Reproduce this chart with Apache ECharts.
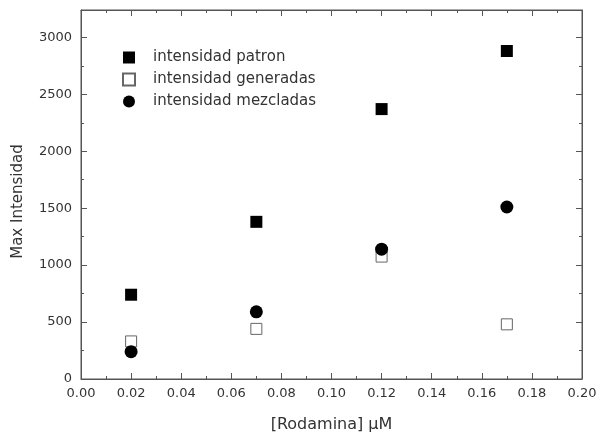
<!DOCTYPE html>
<html>
<head>
<meta charset="utf-8">
<script src="https://cdn.jsdelivr.net/npm/echarts@6/dist/echarts.min.js"></script>
<style>
    html, body { margin: 0; padding: 0; background: #fff; }
    #chart { width: 597px; height: 434px; }
</style>
</head>
<body>
<div id="chart"></div>
<script>
// concentraciones de rodamina (uM)
const rodamina = [0.02, 0.07, 0.12, 0.17];
const patron = [740, 1380, 2370, 2880];
const generadas = [330, 440, 1075, 480];
const mezcladas = [240, 590, 1140, 1510];

const seriesNames = ['intensidad patron', 'intensidad generadas', 'intensidad mezcladas'];

const chart = echarts.init(document.getElementById('chart'));

const axisColor = '#555';
const labelColor = '#333';
const font = 'DejaVu Sans';

function pairs(values) {
    return rodamina.map((x, i) => [x, values[i]]);
}

function tickStyle() {
    return {
        axisLine: { show: true, onZero: false, lineStyle: { color: axisColor, width: 1 } },
        axisTick: { show: true, inside: true, length: 6, lineStyle: { color: axisColor } },
        minorTick: { show: true, splitNumber: 2, length: 3, lineStyle: { color: axisColor } },
        splitLine: { show: false }
    };
}

chart.setOption({
    animation: false,
    grid: {
        left: 81,
        right: 15,
        top: 10,
        bottom: 55,
        outerBoundsMode: 'none',
        show: true,
        borderColor: axisColor,
        borderWidth: 1
    },
    legend: {
        left: 117,
        top: 45,
        orient: 'vertical',
        itemGap: 7,
        itemWidth: 12,
        itemHeight: 12,
        textStyle: {
            color: labelColor,
            fontSize: 15,
            fontFamily: font,
            padding: [0, 0, 0, 13]
        },
        data: seriesNames
    },
    xAxis: [
        Object.assign(tickStyle(), {
            type: 'value',
            min: 0,
            max: 0.2,
            interval: 0.02,
            name: '[Rodamina] \u03bcM',
            nameLocation: 'middle',
            nameGap: 38,
            nameTextStyle: { color: labelColor, fontSize: 16, fontFamily: font },
            axisLabel: {
                color: labelColor,
                fontSize: 13,
                fontFamily: font,
                margin: 8,
                formatter: v => v.toFixed(2)
            }
        }),
        Object.assign(tickStyle(), {
            type: 'value',
            position: 'top',
            min: 0,
            max: 0.2,
            interval: 0.02,
            axisLabel: { show: false }
        })
    ],
    yAxis: [
        Object.assign(tickStyle(), {
            type: 'value',
            min: 0,
            max: 3240,
            interval: 500,
            name: 'Max Intensidad',
            nameLocation: 'middle',
            nameGap: 55,
            nameTextStyle: {
                color: labelColor,
                fontSize: 15,
                fontFamily: font,
                padding: [0, 14, 0, 0]
            },
            axisLabel: {
                color: labelColor,
                fontSize: 13,
                fontFamily: font,
                margin: 9,
                showMaxLabel: false,
                formatter: v => String(v)
            }
        }),
        Object.assign(tickStyle(), {
            type: 'value',
            position: 'right',
            min: 0,
            max: 3240,
            interval: 500,
            axisLabel: { show: false }
        })
    ],
    series: [
        {
            name: seriesNames[0],
            type: 'scatter',
            symbol: 'rect',
            symbolSize: 12,
            itemStyle: { color: '#000', opacity: 1 },
            data: pairs(patron)
        },
        {
            name: seriesNames[1],
            type: 'scatter',
            symbol: 'rect',
            symbolSize: 11,
            itemStyle: { color: '#fff', borderColor: '#666', borderWidth: 1, opacity: 1 },
            data: pairs(generadas)
        },
        {
            name: seriesNames[2],
            type: 'scatter',
            symbol: 'circle',
            symbolSize: 13,
            itemStyle: { color: '#000', opacity: 1 },
            data: pairs(mezcladas)
        },
        {
            type: 'scatter',
            xAxisIndex: 1,
            yAxisIndex: 1,
            silent: true,
            data: []
        }
    ]
});
</script>
</body>
</html>
